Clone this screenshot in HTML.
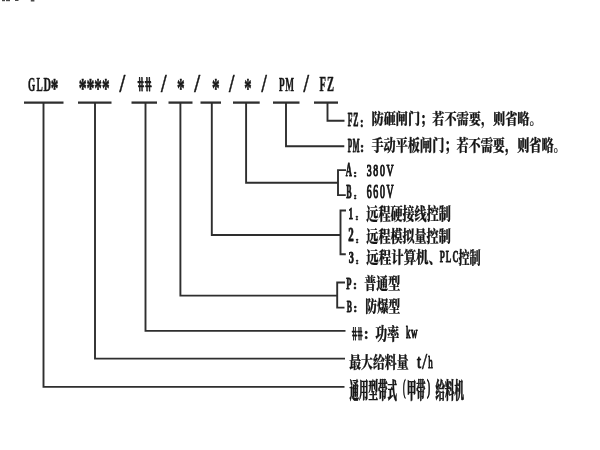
<!DOCTYPE html>
<html lang="zh-CN"><head><meta charset="utf-8"><title>GLD</title>
<style>
html,body{margin:0;padding:0;background:#ffffff}
body{width:600px;height:450px;overflow:hidden;position:relative}
svg{position:absolute;left:0;top:0;display:block;will-change:transform;filter:blur(0.3px)}
text{font-family:"Liberation Serif", "Noto Serif CJK SC", serif;fill:#161616;stroke:#161616;stroke-linejoin:round;vector-effect:non-scaling-stroke;white-space:pre}
</style></head><body>
<svg width="600" height="450" viewBox="0 0 600 450">
<g fill="none" stroke="#2e2e2e" stroke-width="1.9" stroke-linejoin="miter" stroke-linecap="butt">
<path stroke-width="2.3" d="M24.0 102.6H63.5"/>
<path d="M43.5 102.6V386.9H344.5"/>
<path stroke-width="2.3" d="M78.0 102.6H111.5"/>
<path d="M95.0 102.6V358.6H345.0"/>
<path stroke-width="2.3" d="M131.5 102.6H157.0"/>
<path d="M145.5 102.6V330.9H345.5"/>
<path stroke-width="2.3" d="M168.5 102.6H192.5"/>
<path d="M180.4 102.6V295.6H337.2"/>
<path stroke-width="2.3" d="M200.5 102.6H221.0"/>
<path d="M211.8 102.6V235.0H340.5"/>
<path stroke-width="2.3" d="M233.0 102.6H259.7"/>
<path d="M246.1 102.6V182.7H338.0"/>
<path stroke-width="2.3" d="M273.0 102.6H299.5"/>
<path d="M286.0 102.6V146.2H344.3"/>
<path stroke-width="2.3" d="M314.0 102.6H338.0"/>
<path d="M327.5 102.6V120.7H344.5"/>
<path d="M346.0 170.1H338.0V195.1H345.8"/>
<path d="M346.0 210.5H340.5V254.2H345.8"/>
<path d="M345.0 282.5H337.2V307.6H344.5"/>
</g>
<g fill="#4a4a4a" stroke="none"><rect x="2" y="0" width="3" height="1.2"/><rect x="6" y="0" width="4" height="1.2"/><rect x="15" y="0" width="3.5" height="1"/><rect x="30.8" y="0" width="3.6" height="1.5"/></g>
<g>
<text transform="translate(28.08 90.89) scale(0.4833 1)" font-size="19.26" font-weight="700" stroke-width="0.4">G</text>
<text transform="translate(36.39 91.15) scale(0.4735 1)" font-size="19.79" font-weight="700" stroke-width="0.4">L</text>
<text transform="translate(43.50 91.15) scale(0.5259 1)" font-size="19.81" font-weight="700" stroke-width="0.4">D</text>
<text transform="translate(50.84 96.89) scale(0.5737 1)" font-size="26.47" font-weight="700" stroke-width="0.5">*</text>
<text transform="translate(78.79 96.86) scale(0.5822 1)" font-size="27.23" font-weight="700" stroke-width="0.5">*</text>
<text transform="translate(86.59 96.86) scale(0.5819 1)" font-size="27.25" font-weight="700" stroke-width="0.5">*</text>
<text transform="translate(94.37 96.86) scale(0.5579 1)" font-size="27.23" font-weight="700" stroke-width="0.5">*</text>
<text transform="translate(101.95 96.86) scale(0.5604 1)" font-size="27.25" font-weight="700" stroke-width="0.5">*</text>
<text transform="translate(119.41 92.42) scale(0.8013 1)" font-size="25.61" font-weight="700" stroke-width="0.45">/</text>
<text transform="translate(138.66 90.85) scale(0.5633 1) skewX(12)" font-size="20.58" font-weight="700" stroke-width="0.75">#</text>
<text transform="translate(145.92 90.85) scale(0.5977 1) skewX(12)" font-size="20.58" font-weight="700" stroke-width="0.75">#</text>
<text transform="translate(160.88 92.43) scale(0.7771 1)" font-size="25.62" font-weight="700" stroke-width="0.45">/</text>
<text transform="translate(177.07 96.86) scale(0.5608 1)" font-size="27.25" font-weight="700" stroke-width="0.5">*</text>
<text transform="translate(194.31 92.42) scale(0.8154 1)" font-size="25.61" font-weight="700" stroke-width="0.45">/</text>
<text transform="translate(211.94 96.86) scale(0.5593 1)" font-size="27.23" font-weight="700" stroke-width="0.5">*</text>
<text transform="translate(228.91 92.43) scale(0.7581 1)" font-size="25.62" font-weight="700" stroke-width="0.45">/</text>
<text transform="translate(244.25 96.86) scale(0.5390 1)" font-size="27.23" font-weight="700" stroke-width="0.5">*</text>
<text transform="translate(261.39 92.43) scale(0.7433 1)" font-size="25.63" font-weight="700" stroke-width="0.45">/</text>
<text transform="translate(278.95 91.15) scale(0.4692 1)" font-size="19.79" font-weight="700" stroke-width="0.4" letter-spacing="1.5">PM</text>
<text transform="translate(303.38 92.43) scale(0.7639 1)" font-size="25.62" font-weight="700" stroke-width="0.45">/</text>
<text transform="translate(319.56 91.13) scale(0.5144 1)" font-size="20.46" font-weight="700" stroke-width="0.4" letter-spacing="2">FZ</text>
<text transform="translate(347.75 126.40) scale(0.4166 1)" font-size="18.55" font-weight="700" stroke-width="0.7" letter-spacing="2">FZ</text>
<text transform="translate(360.06 126.72) scale(0.7122 1)" font-size="15.46" font-weight="700" stroke-width="0.6">:</text>
<text transform="translate(371.50 124.40) scale(0.8177 1)" font-size="14.87" font-weight="900" stroke-width="0.2">防砸闸门；若不需要，则省略。</text>
<text transform="translate(347.74 151.95) scale(0.3893 1)" font-size="18.54" font-weight="700" stroke-width="0.7" letter-spacing="1.5">PM</text>
<text transform="translate(360.12 152.22) scale(0.8072 1)" font-size="15.46" font-weight="700" stroke-width="0.6">:</text>
<text transform="translate(371.45 150.91) scale(0.7891 1)" font-size="15.39" font-weight="900" stroke-width="0.2">手动平板闸门；若不需要，则省略。</text>
<text transform="translate(345.77 176.45) scale(0.4735 1)" font-size="17.86" font-weight="700" stroke-width="0.7">A</text>
<text transform="translate(353.17 177.44) scale(1.1622 1)" font-size="9.82" font-weight="700" stroke-width="0.6">:</text>
<text transform="translate(366.74 176.27) scale(0.5607 1)" font-size="17.51" font-weight="400" stroke-width="1.0" letter-spacing="3">380V</text>
<text transform="translate(346.35 198.40) scale(0.4311 1)" font-size="18.55" font-weight="700" stroke-width="0.7">B</text>
<text transform="translate(353.34 199.33) scale(1.3120 1)" font-size="8.91" font-weight="700" stroke-width="0.6">:</text>
<text transform="translate(366.79 198.21) scale(0.5412 1)" font-size="18.22" font-weight="400" stroke-width="1.0" letter-spacing="3">660V</text>
<text transform="translate(348.62 218.95) scale(0.5624 1)" font-size="16.45" font-weight="700" stroke-width="0.7">1</text>
<text transform="translate(354.92 220.46) scale(1.3022 1)" font-size="8.95" font-weight="700" stroke-width="0.6">:</text>
<text transform="translate(366.31 219.95) scale(0.7253 1)" font-size="16.67" font-weight="900" stroke-width="0.2">远程硬接线控制</text>
<text transform="translate(348.30 240.95) scale(0.6117 1)" font-size="17.86" font-weight="700" stroke-width="0.7">2</text>
<text transform="translate(355.30 242.51) scale(1.3026 1)" font-size="8.88" font-weight="700" stroke-width="0.6">:</text>
<text transform="translate(366.32 241.85) scale(0.7378 1)" font-size="16.35" font-weight="900" stroke-width="0.2">远程模拟量控制</text>
<text transform="translate(348.70 262.95) scale(0.6206 1)" font-size="16.45" font-weight="700" stroke-width="0.7">3</text>
<text transform="translate(355.30 264.01) scale(1.3026 1)" font-size="8.88" font-weight="700" stroke-width="0.6">:</text>
<text transform="translate(366.31 263.44) scale(0.7591 1)" font-size="16.42" font-weight="900" stroke-width="0.2">远程计算机、</text>
<text transform="translate(439.76 261.90) scale(0.5073 1)" font-size="16.36" font-weight="700" stroke-width="0.6" letter-spacing="2">PLC</text>
<text transform="translate(458.48 263.70) scale(0.6730 1)" font-size="16.54" font-weight="900" stroke-width="0.2">控制</text>
<text transform="translate(346.33 288.95) scale(0.5202 1)" font-size="16.46" font-weight="700" stroke-width="0.7">P</text>
<text transform="translate(352.94 289.00) scale(0.9472 1)" font-size="12.80" font-weight="700" stroke-width="0.6">:</text>
<text transform="translate(364.29 288.81) scale(0.7346 1)" font-size="16.36" font-weight="900" stroke-width="0.2">普通型</text>
<text transform="translate(346.75 311.95) scale(0.4534 1)" font-size="17.16" font-weight="700" stroke-width="0.7">B</text>
<text transform="translate(353.24 311.50) scale(0.9472 1)" font-size="12.80" font-weight="700" stroke-width="0.6">:</text>
<text transform="translate(365.24 312.31) scale(0.7316 1)" font-size="15.96" font-weight="900" stroke-width="0.2">防爆型</text>
<text transform="translate(352.65 339.73) scale(0.4891 1) skewX(12)" font-size="19.46" font-weight="700" stroke-width="0.6">#</text>
<text transform="translate(358.30 339.73) scale(0.4891 1) skewX(12)" font-size="19.46" font-weight="700" stroke-width="0.6">#</text>
<text transform="translate(363.88 339.38) scale(0.8175 1)" font-size="16.20" font-weight="700" stroke-width="0.6">:</text>
<text transform="translate(375.30 339.57) scale(0.6969 1)" font-size="17.20" font-weight="900" stroke-width="0.2">功率</text>
<text transform="translate(405.99 338.49) scale(0.5365 1)" font-size="16.70" font-weight="400" stroke-width="0.9" letter-spacing="1">kw</text>
<text transform="translate(349.27 367.95) scale(0.7231 1)" font-size="16.40" font-weight="900" stroke-width="0.2">最大给料量</text>
<text transform="translate(417.07 367.65) scale(0.7615 1)" font-size="19.26" font-weight="400" stroke-width="0.9">t</text>
<text transform="translate(422.03 369.23) scale(0.8473 1)" font-size="22.16" font-weight="400" stroke-width="0.6">/</text>
<text transform="translate(428.20 367.77) scale(0.5133 1)" font-size="17.48" font-weight="400" stroke-width="0.9">h</text>
<text transform="translate(349.59 397.78) scale(0.4359 1)" font-size="21.78" font-weight="900" stroke-width="0.5">通用型带式</text>
<text transform="translate(402.89 394.44) scale(0.3595 1)" font-size="21.00" font-weight="400" stroke-width="0.9">(</text>
<text transform="translate(406.95 397.53) scale(0.4217 1)" font-size="21.78" font-weight="900" stroke-width="0.5">甲带</text>
<text transform="translate(427.08 394.44) scale(0.4500 1)" font-size="21.00" font-weight="400" stroke-width="0.9">)</text>
<text transform="translate(435.58 397.80) scale(0.4377 1)" font-size="21.59" font-weight="900" stroke-width="0.5">给料机</text>
</g>
</svg>
</body></html>
